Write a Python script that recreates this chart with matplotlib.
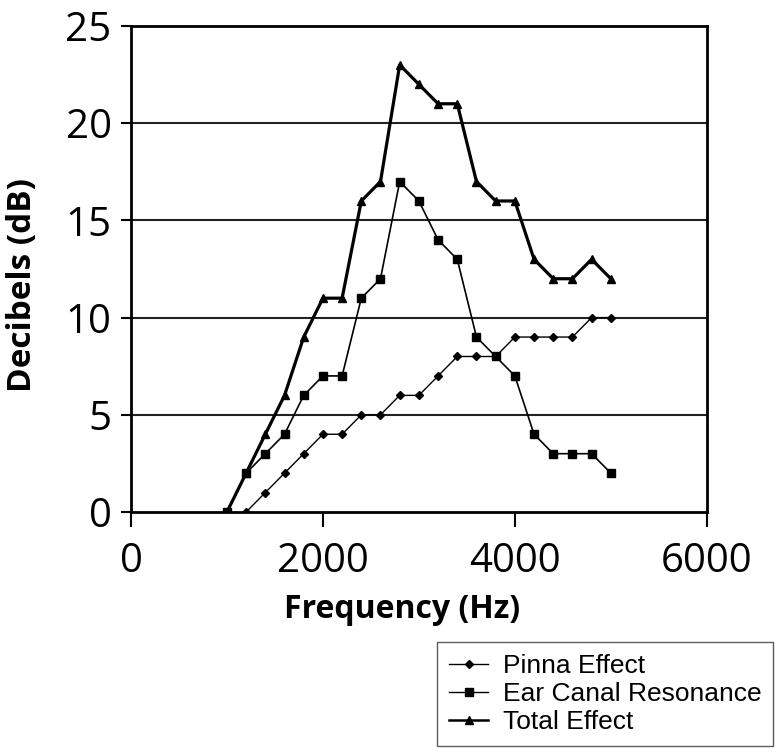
import matplotlib
matplotlib.use('Agg')
import matplotlib.pyplot as plt

freq_pinna = [1200, 1400, 1600, 1800, 2000, 2200, 2400, 2600, 2800, 3000,
              3200, 3400, 3600, 3800, 4000, 4200, 4400, 4600, 4800, 5000]
pinna = [0, 1, 2, 3, 4, 4, 5, 5, 6, 6, 7, 8, 8, 8, 9, 9, 9, 9, 10, 10]

freq = [1000, 1200, 1400, 1600, 1800, 2000, 2200, 2400, 2600, 2800, 3000,
        3200, 3400, 3600, 3800, 4000, 4200, 4400, 4600, 4800, 5000]
ear_canal = [0, 2, 3, 4, 6, 7, 7, 11, 12, 17, 16, 14, 13, 9, 8, 7, 4, 3, 3, 3, 2]
total = [0, 2, 4, 6, 9, 11, 11, 16, 17, 23, 22, 21, 21, 17, 16, 16, 13, 12, 12, 13, 12]

x_ticks = [0, 2000, 4000, 6000]
y_ticks = [0, 5, 10, 15, 20, 25]

fig = plt.figure(figsize=(7.75, 7.48), dpi=100)
ax = fig.add_axes([0.169, 0.3155, 0.743, 0.6497])

for yv in y_ticks[1:-1]:
    ax.axhline(yv, color='#222222', linewidth=1.5, zorder=1)

l1, = ax.plot(freq_pinna, pinna, color='black', linewidth=1.0, marker='D',
              markersize=4, zorder=3, label='Pinna Effect')
l2, = ax.plot(freq, ear_canal, color='black', linewidth=1.2, marker='s',
              markersize=6, zorder=3, label='Ear Canal Resonance')
l3, = ax.plot(freq, total, color='black', linewidth=2.3, marker='^',
              markersize=6, zorder=3, label='Total Effect')

ax.set_xlim(0, 6000)
ax.set_ylim(0, 25)
ax.set_xticks(x_ticks)
ax.set_yticks(y_ticks)
for s in ax.spines.values():
    s.set_linewidth(2.0)
ax.tick_params(direction='out', width=1.5, labelsize=29)
ax.tick_params(axis='x', length=11, pad=10)
ax.tick_params(axis='y', length=7, pad=7)
for lab in ax.get_xticklabels() + ax.get_yticklabels():
    lab.set_family('Open Sans')

ax.set_xlabel('Frequency (Hz)', fontsize=23, fontweight='bold',
              family='Open Sans')
ax.set_ylabel('Decibels (dB)', fontsize=24, fontweight='bold',
              family='Open Sans')
ax.xaxis.set_label_coords(0.470, -0.166)
ax.yaxis.set_label_coords(-0.159, 0.467)

leg = fig.legend(handles=[l1, l2, l3], loc='lower right',
                 bbox_to_anchor=(0.998, 0.003), frameon=True, fancybox=False,
                 prop={'family': 'Liberation Sans', 'size': 19},
                 handlelength=1.5, handletextpad=0.55, labelspacing=0.15,
                 borderpad=0.45, borderaxespad=0)
leg.get_frame().set_edgecolor('#333333')
leg.get_frame().set_linewidth(1.0)
for h, lw in zip(leg.legend_handles, [1.0, 1.0, 1.8]):
    h.set_linewidth(lw)

fig.savefig('out.png', dpi=100, facecolor='white')
